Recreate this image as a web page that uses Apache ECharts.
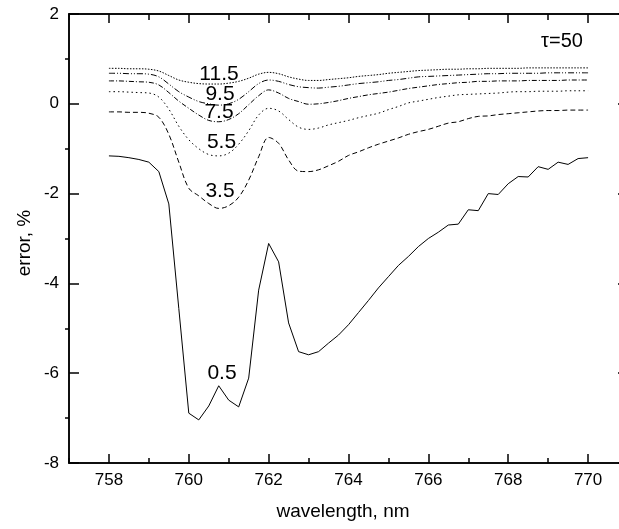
<!DOCTYPE html>
<html>
<head>
<meta charset="utf-8">
<script src="https://cdn.jsdelivr.net/npm/echarts@6/dist/echarts.min.js"></script>
<style>html,body{margin:0;padding:0;background:#fff}#c{width:619px;height:529px}</style>
</head>
<body>
<div id="c"></div>
<script>
var wavelengths = [];
for (var i = 0; i <= 48; i++) wavelengths.push(758 + i * 0.25);

var s05 = [-1.16,-1.17,-1.20,-1.24,-1.30,-1.51,-2.23,-4.56,-6.89,-7.04,-6.73,-6.28,-6.60,-6.75,-6.11,-4.15,-3.11,-3.52,-4.88,-5.52,-5.59,-5.52,-5.33,-5.15,-4.92,-4.65,-4.38,-4.10,-3.85,-3.60,-3.40,-3.18,-3.00,-2.86,-2.70,-2.68,-2.36,-2.38,-2.00,-2.02,-1.78,-1.62,-1.63,-1.40,-1.46,-1.30,-1.35,-1.22,-1.20];
var s35 = [-0.18,-0.18,-0.19,-0.19,-0.21,-0.30,-0.68,-1.30,-1.88,-2.05,-2.22,-2.33,-2.27,-2.08,-1.70,-1.18,-0.75,-0.88,-1.25,-1.50,-1.51,-1.47,-1.38,-1.28,-1.15,-1.07,-0.98,-0.90,-0.83,-0.76,-0.68,-0.62,-0.57,-0.50,-0.43,-0.40,-0.33,-0.28,-0.27,-0.24,-0.22,-0.20,-0.18,-0.16,-0.15,-0.15,-0.14,-0.14,-0.14];
var s55 = [0.27,0.27,0.26,0.25,0.24,0.15,-0.12,-0.50,-0.80,-1.00,-1.13,-1.16,-1.10,-0.90,-0.60,-0.25,-0.10,-0.16,-0.35,-0.52,-0.57,-0.54,-0.47,-0.42,-0.37,-0.31,-0.26,-0.21,-0.13,-0.06,0.02,0.06,0.10,0.14,0.17,0.20,0.21,0.22,0.23,0.24,0.26,0.27,0.27,0.28,0.28,0.28,0.29,0.29,0.29];
var s75 = [0.51,0.51,0.50,0.49,0.48,0.42,0.25,0.06,-0.10,-0.25,-0.37,-0.40,-0.35,-0.22,-0.02,0.18,0.31,0.24,0.12,0.05,-0.01,0.00,0.03,0.07,0.12,0.16,0.20,0.23,0.26,0.30,0.34,0.37,0.40,0.43,0.45,0.47,0.48,0.50,0.50,0.51,0.51,0.51,0.52,0.52,0.52,0.52,0.53,0.53,0.53];
var s95 = [0.68,0.68,0.67,0.67,0.66,0.60,0.44,0.27,0.15,0.05,0.00,-0.03,0.00,0.10,0.27,0.45,0.53,0.50,0.43,0.38,0.36,0.35,0.37,0.39,0.42,0.45,0.47,0.49,0.52,0.54,0.57,0.60,0.61,0.62,0.63,0.64,0.65,0.66,0.67,0.67,0.68,0.68,0.68,0.68,0.69,0.69,0.69,0.69,0.69];
var s115 = [0.79,0.79,0.78,0.78,0.77,0.73,0.63,0.53,0.48,0.45,0.44,0.44,0.46,0.50,0.57,0.66,0.70,0.67,0.60,0.55,0.52,0.52,0.54,0.56,0.58,0.61,0.63,0.65,0.68,0.70,0.72,0.74,0.75,0.76,0.77,0.77,0.78,0.78,0.79,0.79,0.79,0.79,0.80,0.80,0.80,0.80,0.80,0.80,0.80];

var xMajorTicks = [758,760,762,764,766,768,770];
var xMinorTicks = [757,759,761,763,765,767,769,771];
var yMajorTicks = [-8,-6,-4,-2,0,2];
var yMinorTicks = [-7,-5,-3,-1,1];

var seriesNames = ['0.5','3.5','5.5','7.5','9.5','11.5'];
var seriesData = [s05,s35,s55,s75,s95,s115];
var lineTypes = ['solid',[5,3],[1.5,3],[5,2,1,2],[6,2,1,2,1,2],[1.5,1.5]];

function pairs(v){ return wavelengths.map(function(w,i){return [w, v[i]];}); }

var FONT = 'Liberation Sans, Arial, sans-serif';
var axisLineStyle = {color:'#000', width:1.5};

function xAx(pos, ticks, len, labels){
  return {
    type:'value', position:pos, min:757, max:771,
    axisLine:{show:true, onZero:false, lineStyle:axisLineStyle},
    axisTick:{show:true, inside:true, length:len, customValues:ticks, lineStyle:{color:'#000', width:1.5}},
    axisLabel:{show:labels, customValues:xMajorTicks, color:'#000', fontSize:17, fontFamily:FONT, margin:9},
    splitLine:{show:false}
  };
}
function yAx(pos, ticks, len, inside, labels){
  return {
    type:'value', position:pos, min:-8, max:2,
    axisLine:{show:true, onZero:false, lineStyle:axisLineStyle},
    axisTick:{show:true, inside:inside, length:len, customValues:ticks, lineStyle:{color:'#000', width:1.5}},
    axisLabel:{show:labels, customValues:yMajorTicks, color:'#000', fontSize:17, fontFamily:FONT, margin:10},
    splitLine:{show:false}
  };
}

var series = seriesNames.map(function(n,k){
  return {
    name:n, type:'line', xAxisIndex:0, yAxisIndex:0, data:pairs(seriesData[k]),
    showSymbol:false, symbol:'none', smooth: k===0 ? false : 0.35,
    lineStyle:{color:'#000', width:1, type:lineTypes[k]}, silent:true, animation:false
  };
});

var curveLabels = [
  {t:'11.5', x:219, y:74.5},
  {t:'9.5', x:220, y:94},
  {t:'7.5', x:219, y:112.5},
  {t:'5.5', x:221.5, y:142.5},
  {t:'3.5', x:220, y:191},
  {t:'0.5', x:222, y:373}
];

var graphics = curveLabels.map(function(c){
  return {type:'text', x:c.x, y:c.y, style:{text:c.t, fill:'#000', font:'21px '+FONT, align:'center', verticalAlign:'middle'}, z:100};
});
graphics.push({type:'text', x:562, y:41, style:{text:'τ=50', fill:'#000', font:'20px '+FONT, align:'center', verticalAlign:'middle'}});
graphics.push({type:'text', x:343, y:512, style:{text:'wavelength, nm', fill:'#000', font:'19px '+FONT, align:'center', verticalAlign:'middle'}});
graphics.push({type:'text', x:25, y:243, rotation:Math.PI/2, style:{text:'error, %', fill:'#000', font:'19px '+FONT, align:'center', verticalAlign:'middle'}});

var chart = echarts.init(document.getElementById('c'), null, {renderer:'canvas'});
chart.setOption({
  animation:false,
  backgroundColor:'#fff',
  grid:{left:69, top:14, width:559, height:449, containLabel:false, outerBoundsMode:'none'},
  xAxis:[
    xAx('bottom', xMajorTicks, 9, true),
    xAx('bottom', xMinorTicks, 5, false),
    xAx('top', xMajorTicks, 9, false),
    xAx('top', xMinorTicks, 6, false)
  ],
  yAxis:[
    yAx('left', yMajorTicks, 10, true, true),
    yAx('left', yMinorTicks, 4, false, false),
    yAx('right', yMajorTicks, 10, true, false),
    yAx('right', yMinorTicks, 4, false, false)
  ],
  series:series,
  graphic:graphics
});
</script>
</body>
</html>
